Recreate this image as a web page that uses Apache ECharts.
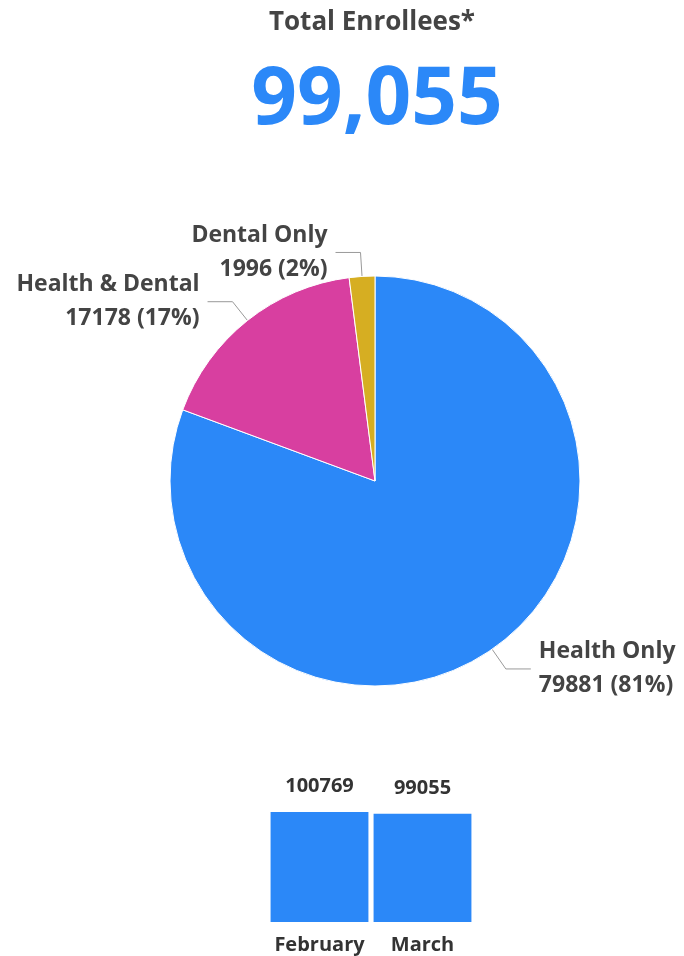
<!DOCTYPE html>
<html>
<head>
<meta charset="utf-8">
<script src="https://cdn.jsdelivr.net/npm/echarts@6/dist/echarts.min.js"></script>
<style>
  html, body { margin: 0; padding: 0; background: #fff; }
  #chart { width: 684px; height: 956px; }
</style>
</head>
<body>
<div id="chart"></div>
<script>
// Enrollment split for the current month
const planNames = ['Health Only', 'Health & Dental', 'Dental Only'];
const planCounts = [79881, 17178, 1996];
const planColors = ['#2b88f8', '#d83fa0', '#d6ae22'];

// Month-over-month totals
const months = ['February', 'March'];
const monthTotals = [100769, 99055];

const totalLabel = 'Total Enrollees*';
const totalValue = '99,055';

const font = '"Open Sans", "Noto Sans", sans-serif';

const chart = echarts.init(document.getElementById('chart'));

const option = {
  animation: false,
  textStyle: { fontFamily: font },
  title: [
    {
      text: totalLabel,
      left: 367,
      top: 5,
      textAlign: 'center',
      textStyle: { fontSize: 26, fontWeight: 'bold', color: '#444', fontFamily: font }
    },
    {
      text: totalValue,
      left: 372,
      top: 56,
      textAlign: 'center',
      textStyle: { fontSize: 80, fontWeight: 'bold', color: '#2b88f8', fontFamily: font }
    }
  ],
  grid: {
    left: 268,
    width: 206,
    top: 812,
    bottom: 34
  },
  xAxis: {
    type: 'category',
    data: months,
    axisLine: { show: false },
    axisTick: { show: false },
    axisLabel: { interval: 0, fontSize: 20, fontWeight: 'bold', color: '#333', margin: 13, fontFamily: font }
  },
  yAxis: {
    type: 'value',
    min: 0,
    max: 100769,
    show: false
  },
  series: [
    {
      type: 'pie',
      center: [375, 481],
      radius: 205,
      startAngle: 90,
      clockwise: true,
      percentPrecision: 0,
      avoidLabelOverlap: false,
      labelLayout: { hideOverlap: false },
      itemStyle: { borderColor: '#fff', borderWidth: 1 },
      label: {
        formatter: '{b}\n{c} ({d}%)',
        fontSize: 23,
        fontWeight: 'bold',
        color: '#444',
        lineHeight: 34,
        distanceToLabelLine: 8,
        fontFamily: font
      },
      labelLine: {
        length: 24,
        length2: 25,
        lineStyle: { color: '#999', width: 1 }
      },
      data: planNames.map((n, i) => ({
        name: n,
        value: planCounts[i],
        itemStyle: { color: planColors[i] }
      }))
    },
    {
      type: 'bar',
      data: monthTotals,
      barCategoryGap: '5%',
      itemStyle: { color: '#2b88f8' },
      label: {
        show: true,
        position: 'top',
        distance: 16,
        fontSize: 20,
        fontWeight: 'bold',
        color: '#333',
        fontFamily: font
      }
    }
  ]
};

chart.setOption(option);
window.addEventListener('resize', () => chart.resize());
</script>
</body>
</html>
